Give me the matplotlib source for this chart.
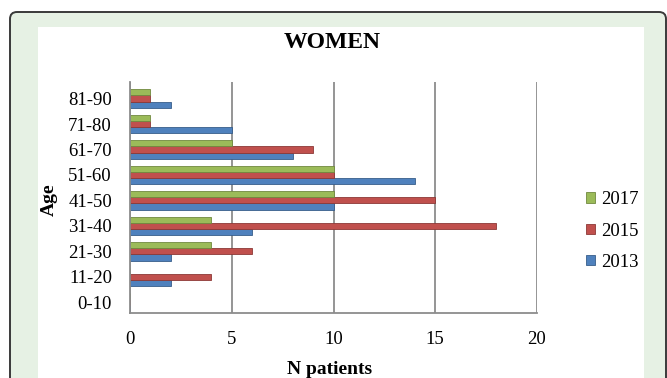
import numpy as np
import matplotlib
matplotlib.use('Agg')
import matplotlib.pyplot as plt
from matplotlib.patches import FancyBboxPatch, Rectangle

# data
ages = ['0-10', '11-20', '21-30', '31-40', '41-50', '51-60', '61-70', '71-80', '81-90']
n_2013 = [0, 2, 2, 6, 10, 14, 8, 5, 2]
n_2015 = [0, 4, 6, 18, 15, 10, 9, 1, 1]
n_2017 = [0, 0, 4, 4, 10, 10, 5, 1, 1]
xticks = [0, 5, 10, 15, 20]

plt.rcParams['font.family'] = ['Liberation Serif', 'DejaVu Serif']

W, H = 667, 378
fig = plt.figure(figsize=(W / 100, H / 100), dpi=100, facecolor='white')

# background frame drawn in pixel coords
bg = fig.add_axes([0, 0, 1, 1], zorder=0)
bg.set_xlim(0, W)
bg.set_ylim(H, 0)
bg.axis('off')
bg.add_patch(FancyBboxPatch((10, 12), 656, 400,
                            boxstyle='round,pad=0,rounding_size=7',
                            facecolor='#e6f1e4', edgecolor='#3a3a3a', lw=1.4))
bg.add_patch(Rectangle((38, 27), 606, 400, facecolor='white', edgecolor='none'))

ax = fig.add_axes([130 / W, 1 - 313 / H, 407 / W, 231 / H], zorder=1)
ax.patch.set_alpha(0)

y = np.arange(len(ages))
h = 0.24
b13 = ax.barh(y - h, n_2013, height=h, color='#4f81bd', edgecolor='#385d8a', lw=0.6, label='2013')
b15 = ax.barh(y, n_2015, height=h, color='#c0504d', edgecolor='#8c3836', lw=0.6, label='2015')
b17 = ax.barh(y + h, n_2017, height=h, color='#9bbb59', edgecolor='#71893f', lw=0.6, label='2017')

ax.set_xlim(0, 20)
ax.set_ylim(-0.42, 8.65)
ax.set_xticks(xticks)
ax.set_xticklabels([str(t) for t in xticks])
ax.set_yticks(y)
ax.set_yticklabels(ages)
ax.tick_params(axis='both', length=0, labelsize=13.5)
ax.tick_params(axis='x', pad=13)
ax.tick_params(axis='y', pad=13)

ax.grid(axis='x', color='#8c8c8c', lw=1.3)
ax.set_axisbelow(True)
for s in ['top', 'right']:
    ax.spines[s].set_visible(False)
for s in ['left', 'bottom']:
    ax.spines[s].set_color('#8c8c8c')
    ax.spines[s].set_linewidth(1.3)

# titles and axis names
fig.text(332 / W, 1 - 42 / H, 'WOMEN', ha='center', va='center', fontsize=17, fontweight='bold')
fig.text(330 / W, 1 - 369 / H, 'N patients', ha='center', va='center', fontsize=14, fontweight='bold')
fig.text(49 / W, 1 - 200 / H, 'Age', ha='center', va='center', rotation=90, fontsize=14, fontweight='bold')

fig.legend([b17, b15, b13], ['2017', '2015', '2013'], loc='center left',
           bbox_to_anchor=(586 / W, 1 - 231 / H), frameon=False, fontsize=13.5,
           handlelength=0.5, handleheight=0.5, handletextpad=0.3, labelspacing=0.75,
           borderpad=0, borderaxespad=0)

fig.savefig('out.png', dpi=100, facecolor='white')
